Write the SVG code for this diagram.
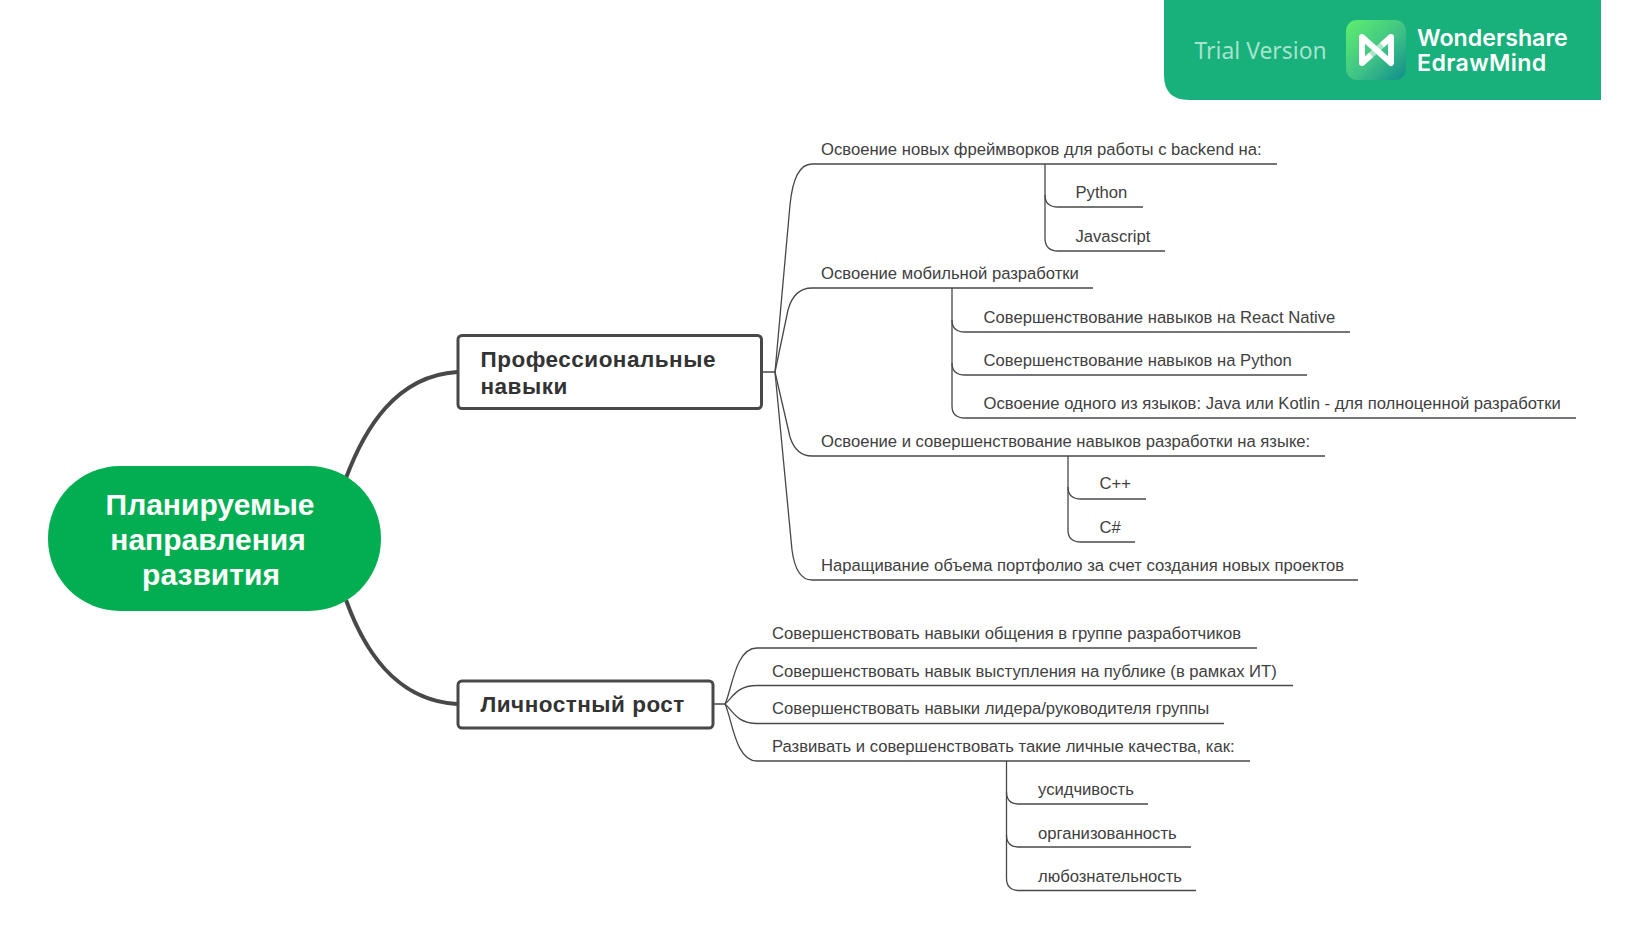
<svg xmlns="http://www.w3.org/2000/svg" width="1626" height="941" viewBox="0 0 1626 941">
<style>
text{font-family:"Liberation Sans",Arial,sans-serif}
.l{font-size:16.64px;fill:#404040}
.t{font-size:22.5px;font-weight:700;fill:#333;letter-spacing:.5px}
.c{font-size:30px;font-weight:700;fill:#fff;text-anchor:middle}
.b{fill:#fff;stroke:#484848;stroke-width:3}
.m{fill:none;stroke:#484848;stroke-width:4}
.n{fill:none;stroke:#484848;stroke-width:1.3}
.w{font-family:Inter,Roboto,sans-serif;font-size:23.2px;font-weight:600;fill:#fff}
</style>
<defs><linearGradient id="lg" x1="0" y1="0" x2="1" y2="1"><stop offset="0" stop-color="#5fef6e"/><stop offset=".55" stop-color="#3fc286"/><stop offset="1" stop-color="#108c8c"/></linearGradient></defs>
<rect width="1626" height="941" fill="#fff"/>
<g id="connectors">
<path class="m" d="M346 478C364 430 395 376 457 372"/>
<path class="m" d="M346 600C364 650 395 700 457 704"/>
<g>
<path class="n" d="M762 372H775L790 205Q794 164 812 164H1277"/>
<path class="n" d="M775 372L788 310Q794 288 812 288H1093"/>
<path class="n" d="M775 372L790 437Q796 456 812 456H1325"/>
<path class="n" d="M775 372L792 550Q796 580 812 580H1358"/>
<path class="n" d="M1045 164V195Q1045 207 1058 207H1143"/>
<path class="n" d="M1045 195V238Q1045 251 1058 251H1165"/>
<path class="n" d="M952 288V320Q952 332 965 332H1350"/>
<path class="n" d="M952 320V363Q952 375 965 375H1307"/>
<path class="n" d="M952 363V406Q952 418 965 418H1576"/>
<path class="n" d="M1068 456V487Q1068 499 1081 499H1146"/>
<path class="n" d="M1068 487V530Q1068 542 1081 542H1135"/>
</g>
<g>
<path class="n" d="M713 704H725C732 690 735 648 757 648H1257"/>
<path class="n" d="M725 704C733 697 737 685.500 757 685.500H1293"/>
<path class="n" d="M725 704C733 711 737 723.500 757 723.500H1224"/>
<path class="n" d="M725 704C732 718 735 761 757 761H1250"/>
<path class="n" d="M1006.500 761V792Q1006.500 804 1019 804H1148"/>
<path class="n" d="M1006.500 792V835Q1006.500 847 1019 847H1191"/>
<path class="n" d="M1006.500 835V878Q1006.500 890.500 1019 890.500H1196"/>
</g>
</g>
<g id="root"><rect x="48" y="466" width="333" height="145" rx="72" fill="#03ae52"/>
<text class="c" x="210" y="515">Планируемые</text><text class="c" x="208" y="550">направления</text><text class="c" x="211" y="585">развития</text></g>
<g id="n1"><rect class="b" x="458" y="335.500" width="303.500" height="73" rx="4"/><text class="t" x="480.500" y="367">Профессиональные</text><text class="t" x="480.500" y="394">навыки</text></g>
<g id="n2"><rect class="b" x="458" y="681" width="255" height="47" rx="4"/><text class="t" x="480.500" y="712">Личностный рост</text></g>
<g id="a1"><text class="l" x="821" y="155">Освоение новых фреймворков для работы с backend на:</text></g>
<g id="a11"><text class="l" x="1075.500" y="198">Python</text></g>
<g id="a12"><text class="l" x="1075.500" y="242">Javascript</text></g>
<g id="a2"><text class="l" x="821" y="279">Освоение мобильной разработки</text></g>
<g id="a21"><text class="l" x="983.500" y="323">Совершенствование навыков на React Native</text></g>
<g id="a22"><text class="l" x="983.500" y="366">Совершенствование навыков на Python</text></g>
<g id="a23"><text class="l" x="983.500" y="409">Освоение одного из языков: Java или Kotlin - для полноценной разработки</text></g>
<g id="a3"><text class="l" x="821" y="447">Освоение и совершенствование навыков разработки на языке:</text></g>
<g id="a31"><text class="l" x="1099.500" y="489">C++</text></g>
<g id="a32"><text class="l" x="1099.500" y="533">C#</text></g>
<g id="a4"><text class="l" x="821" y="571">Наращивание объема портфолио за счет создания новых проектов</text></g>
<g id="b1"><text class="l" x="772" y="639">Совершенствовать навыки общения в группе разработчиков</text></g>
<g id="b2"><text class="l" x="772" y="677">Совершенствовать навык выступления на публике (в рамках ИТ)</text></g>
<g id="b3"><text class="l" x="772" y="714">Совершенствовать навыки лидера/руководителя группы</text></g>
<g id="b4"><text class="l" x="772" y="752">Развивать и совершенствовать такие личные качества, как:</text></g>
<g id="b41"><text class="l" x="1038" y="795">усидчивость</text></g>
<g id="b42"><text class="l" x="1038" y="839">организованность</text></g>
<g id="b43"><text class="l" x="1038" y="882">любознательность</text></g>
<g id="banner"><path d="M1164 0H1601V100H1189Q1164 100 1164 75Z" fill="#18b07b"/>
<text x="1194.500" y="58.500" style="font-family:'Noto Sans',sans-serif;font-size:22.9px;fill:#a6e3cc">Trial Version</text>
<rect x="1346" y="20" width="60" height="60" rx="11" fill="url(#lg)"/>
<path d="M1362 63L1391 37" fill="none" stroke="#fff" stroke-opacity=".55" stroke-width="6"/>
<path d="M1371 55L1362 63M1382 45L1391 37" fill="none" stroke="#fff" stroke-width="6"/>
<path d="M1362 63V37L1391 63V37" fill="none" stroke="#fff" stroke-width="6" stroke-linejoin="round" stroke-linecap="round"/>
<text class="w" x="1417" y="46">Wondershare</text><text class="w" x="1417" y="71" style="letter-spacing:.35px">EdrawMind</text></g>
</svg>
